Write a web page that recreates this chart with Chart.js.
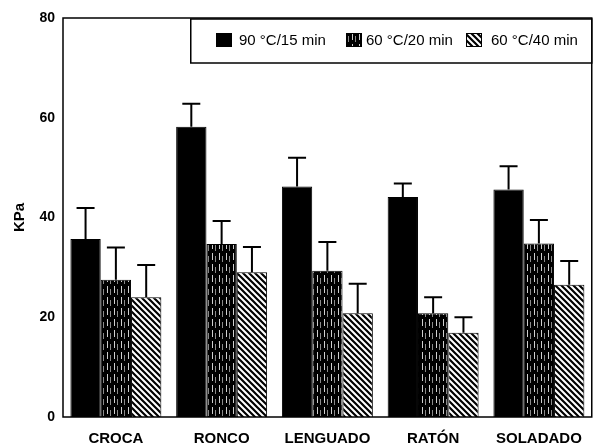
<!DOCTYPE html>
<html>
<head>
<meta charset="utf-8">
<script src="https://cdn.jsdelivr.net/npm/chart.js@4.4.0/dist/chart.umd.min.js"></script>
<style>
html,body{margin:0;padding:0;background:#fff;}
#wrap{width:595px;height:444px;position:relative;}
</style>
</head>
<body>
<div id="wrap"><canvas id="c" width="595" height="444"></canvas></div>
<script>
// ---- data ----
const categories = ['CROCA', 'RONCO', 'LENGUADO', 'RATÓN', 'SOLADADO'];
const seriesLabels = ['90 °C/15 min', '60 °C/20 min', '60 °C/40 min'];
const values90_15 = [35.7, 58.2, 46.2, 44.1, 45.6];
const err90_15    = [6.2, 4.6, 5.8, 2.7, 4.7];
const values60_20 = [27.5, 34.7, 29.3, 20.8, 34.8];
const err60_20    = [6.5, 4.6, 5.8, 3.2, 4.7];
const values60_40 = [24.0, 29.0, 20.8, 16.9, 26.5];
const err60_40    = [6.5, 5.1, 5.9, 3.1, 4.8];
const yTicks = [0, 20, 40, 60, 80];

// ---- fill patterns ----
function verticalPattern() {
  const p = document.createElement('canvas');
  p.width = 7; p.height = 11;
  const g = p.getContext('2d');
  g.fillStyle = '#000'; g.fillRect(0, 0, 7, 11);
  g.fillStyle = '#cfcfcf'; g.fillRect(2, 0, 1, 7);
  g.fillStyle = '#8a8a8a'; g.fillRect(5, 3, 1, 6);
  return g.createPattern(p, 'repeat');
}
function diagonalPattern() {
  const s = 6;
  const p = document.createElement('canvas');
  p.width = s; p.height = s;
  const g = p.getContext('2d');
  g.fillStyle = '#fff'; g.fillRect(0, 0, s, s);
  g.strokeStyle = '#000'; g.lineWidth = 2.2;
  g.beginPath();
  g.moveTo(-s, -s); g.lineTo(2 * s, 2 * s);
  g.moveTo(-s, 0); g.lineTo(s, 2 * s);
  g.moveTo(0, -s); g.lineTo(2 * s, s);
  g.stroke();
  return g.createPattern(p, 'repeat');
}
const fills = ['#000000', verticalPattern(), diagonalPattern()];
const seriesValues = [values90_15, values60_20, values60_40];
const seriesErrors = [err90_15, err60_20, err60_40];

const FONT = '"Liberation Sans", Arial, Helvetica, sans-serif';

const errorBarPlugin = {
  id: 'errorBars',
  afterDatasetsDraw(chart) {
    const ctx = chart.ctx;
    const y = chart.scales.y;
    ctx.save();
    ctx.strokeStyle = '#000';
    ctx.lineWidth = 2;
    chart.data.datasets.forEach((ds, di) => {
      const meta = chart.getDatasetMeta(di);
      meta.data.forEach((bar, i) => {
        const top = y.getPixelForValue(ds.data[i]);
        const end = y.getPixelForValue(ds.data[i] + ds.errors[i]);
        ctx.beginPath();
        ctx.moveTo(bar.x, top);
        ctx.lineTo(bar.x, end);
        ctx.moveTo(bar.x - 9, end);
        ctx.lineTo(bar.x + 9, end);
        ctx.stroke();
      });
    });
    ctx.restore();
  }
};

const frameLegendPlugin = {
  id: 'frameLegend',
  afterDraw(chart) {
    const ctx = chart.ctx;
    const a = chart.chartArea;
    ctx.save();
    // frame
    ctx.strokeStyle = '#000';
    ctx.lineWidth = 1.5;
    ctx.strokeRect(a.left, a.top, a.right - a.left, a.bottom - a.top);
    // legend box
    const bx = a.right - 401, by = a.top + 1, bw = 401, bh = 44;
    ctx.fillStyle = '#fff';
    ctx.fillRect(bx, by, bw, bh);
    ctx.lineWidth = 1.5;
    ctx.strokeRect(bx, by, bw, bh);
    const iconX = [216, 346, 466];
    const textX = [239, 366, 491];
    ctx.font = '15px ' + FONT;
    ctx.textBaseline = 'middle';
    ctx.textAlign = 'left';
    chart.data.datasets.forEach((ds, i) => {
      ctx.fillStyle = ds.backgroundColor;
      ctx.fillRect(iconX[i], 33, 16, 14);
      ctx.lineWidth = 1;
      ctx.strokeStyle = '#000';
      ctx.strokeRect(iconX[i] + 0.5, 33.5, 15, 13);
      ctx.fillStyle = '#000';
      ctx.fillText(ds.label, textX[i], 41);
    });
    ctx.restore();
  }
};

new Chart(document.getElementById('c'), {
  type: 'bar',
  data: {
    labels: categories,
    datasets: seriesLabels.map((lbl, i) => ({
      label: lbl,
      data: seriesValues[i],
      errors: seriesErrors[i],
      backgroundColor: fills[i],
      borderColor: '#000',
      borderWidth: 1,
      barPercentage: 1.0,
      categoryPercentage: 0.86
    }))
  },
  options: {
    responsive: false,
    animation: false,
    devicePixelRatio: 1,
    layout: { padding: { top: 18, right: 2, left: 0, bottom: 0 } },
    plugins: { legend: { display: false }, tooltip: { enabled: false } },
    scales: {
      x: {
        grid: { display: false, drawTicks: false },
        border: { display: false },
        ticks: { color: '#000', font: { family: FONT, size: 15, weight: 'bold' }, padding: 13, maxRotation: 0, autoSkip: false },
        afterFit(s) { s.height = 27; }
      },
      y: {
        min: 0, max: 80,
        afterBuildTicks(s) { s.ticks = yTicks.map(v => ({ value: v })); },
        grid: { display: false, drawTicks: false },
        border: { display: false },
        ticks: { color: '#000', font: { family: FONT, size: 14, weight: 'bold' }, padding: 8 },
        title: { display: true, text: 'KPa', color: '#000', font: { family: FONT, size: 15, weight: 'bold' }, padding: { top: 11, bottom: 0 } },
        afterFit(s) { s.width = 63; }
      }
    }
  },
  plugins: [errorBarPlugin, frameLegendPlugin]
});
</script>
</body>
</html>
